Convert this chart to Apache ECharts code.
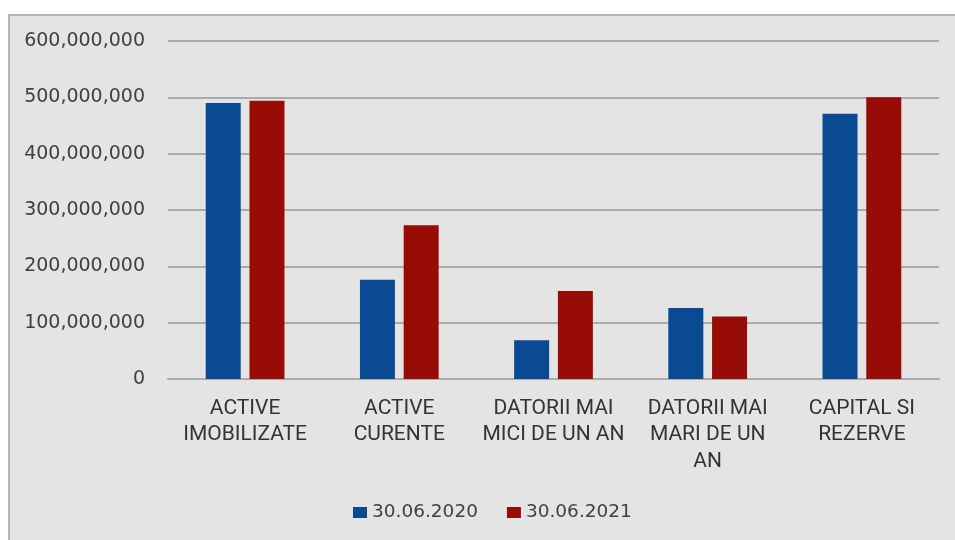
<!DOCTYPE html>
<html>
<head>
<meta charset="utf-8">
<script src="https://cdn.jsdelivr.net/npm/echarts@6/dist/echarts.min.js"></script>
<style>
  html, body { margin: 0; padding: 0; background: #fff; }
  .frame {
    position: absolute; left: 8px; top: 14px;
    width: 945px; height: 524px;
    border-left: 2px solid #b4b4b4; border-top: 2px solid #b4b4b4;
    background: #e4e4e4;
  }
  #chart { width: 945px; height: 524px; }
</style>
</head>
<body>
<div class="frame"><div id="chart"></div></div>
<script>
// date bilant
const categories = [
  'ACTIVE\nIMOBILIZATE',
  'ACTIVE\nCURENTE',
  'DATORII MAI\nMICI DE UN AN',
  'DATORII MAI\nMARI DE UN\nAN',
  'CAPITAL SI\nREZERVE'
]
const seriesNames = ['30.06.2020', '30.06.2021']
const values2020 = [490000000, 176000000, 69000000, 126000000, 471000000]
const values2021 = [494000000, 273000000, 156000000, 111000000, 500000000]
const colorList = ['#0a4a93', '#970c05']

const chart = echarts.init(document.getElementById('chart'))

const fmt = (v) => String(v).replace(/\B(?=(\d{3})+(?!\d))/g, ',')

const option = {
  color: colorList,
  animation: false,
  legend: {
    data: seriesNames,
    left: 338,
    top: 482,
    icon: 'rect',
    itemWidth: 14,
    itemHeight: 11,
    itemGap: 29,
    textStyle: {
      color: '#404040',
      fontSize: 18.5,
      fontFamily: 'DejaVu Sans'
    }
  },
  grid: {
    left: 158,
    right: 16,
    top: 25,
    bottom: 161
  },
  xAxis: {
    type: 'category',
    data: categories,
    axisTick: { show: false },
    axisLine: {
      show: true,
      lineStyle: { color: '#ababab', width: 2 }
    },
    axisLabel: {
      color: '#333',
      fontSize: 21,
      fontFamily: 'Roboto',
      lineHeight: 26.5,
      margin: 16,
      interval: 0
    }
  },
  yAxis: {
    type: 'value',
    min: 0,
    max: 600000000,
    interval: 100000000,
    axisLine: { show: false },
    axisTick: { show: false },
    splitLine: {
      lineStyle: { color: '#ababab', width: 2 }
    },
    axisLabel: {
      color: '#404040',
      fontSize: 19,
      fontFamily: 'DejaVu Sans',
      margin: 23,
      formatter: fmt
    }
  },
  series: [
    {
      name: seriesNames[0],
      type: 'bar',
      barWidth: 35,
      barGap: '25%',
      data: values2020
    },
    {
      name: seriesNames[1],
      type: 'bar',
      barWidth: 35,
      barGap: '25%',
      data: values2021
    }
  ]
}
chart.setOption(option, true)
</script>
</body>
</html>
